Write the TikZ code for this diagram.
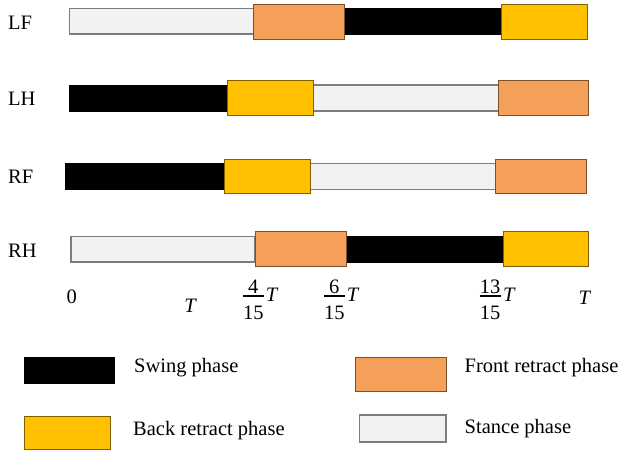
\documentclass[tikz,border=0pt]{standalone}
\usepackage{fontspec}
\setmainfont{Liberation Serif}
\definecolor{frontc}{RGB}{245,160,90}
\definecolor{backc}{RGB}{255,192,0}
\definecolor{stancec}{RGB}{242,242,242}
\definecolor{stanceedge}{RGB}{125,125,125}
\tikzset{
  swingbar/.style={fill=black, draw=black, line width=0.6pt},
  frontbox/.style={fill=frontc, draw=frontc!50!black, line width=1pt},
  backbox/.style={fill=backc, draw=backc!50!black, line width=1pt},
  stancebar/.style={fill=stancec, draw=stanceedge, line width=1.6pt},
  txt/.style={font=\fontsize{20.5}{24}\selectfont, inner sep=0pt},
  fracrule/.style={line width=1.4pt},
}
\begin{document}
\begin{tikzpicture}[x=1pt,y=-1pt]
\useasboundingbox (0,0) rectangle (622,450);

% ---- leg labels ----
\node[txt, anchor=west] (lf) at (8,23) {LF};
\node[txt, anchor=west] (lh) at (8,99) {LH};
\node[txt, anchor=west] (rf) at (8,177) {RF};
\node[txt, anchor=west] (rh) at (8,251) {RH};

% ---- LF ----
\draw[stancebar] (69.3,8.5) rectangle (254,34);
\draw[swingbar]  (344,8.5) rectangle (501,34);
\draw[frontbox]  (253.5,4) rectangle (344.5,39);
\draw[backbox]   (501,4) rectangle (587,39);

% ---- LH ----
\draw[swingbar]  (69.3,85) rectangle (227.5,111);
\draw[stancebar] (313.5,85) rectangle (498.5,111);
\draw[backbox]   (227,80.7) rectangle (313.5,115.7);
\draw[frontbox]  (498.5,80.7) rectangle (588.5,115.7);

% ---- RF ----
\draw[swingbar]  (65.5,163.3) rectangle (224.5,189.3);
\draw[stancebar] (310,163.3) rectangle (495.5,189.3);
\draw[backbox]   (224,159.3) rectangle (310,193.3);
\draw[frontbox]  (495.5,159.3) rectangle (586.5,193.3);

% ---- RH ----
\draw[stancebar] (71,236.5) rectangle (255,262);
\draw[swingbar]  (345.5,236.5) rectangle (503,262);
\draw[frontbox]  (255,231.7) rectangle (346,266.7);
\draw[backbox]   (503,231.7) rectangle (588,266.7);

% ---- time axis labels ----
\node[txt] (t0) at (71.7,297) {0};
\node[txt] (tmid) at (190.7,306) {\textit{T}};
\node[txt] (tend) at (585,298) {\textit{T}};

% 4/15 T
\node[txt] (n4) at (253.3,286.5) {4};
\draw[fracrule] (243,296) -- (264,296);
\node[txt] (d4) at (253.3,312.5) {15};
\node[txt] (t4) at (272.3,295) {\textit{T}};

% 6/15 T
\node[txt] (n6) at (334.3,286.5) {6};
\draw[fracrule] (324,296) -- (345,296);
\node[txt] (d6) at (334.3,312.5) {15};
\node[txt] (t6) at (353.3,295) {\textit{T}};

% 13/15 T
\node[txt] (n13) at (490,286.5) {13};
\draw[fracrule] (479.5,296) -- (500.5,296);
\node[txt] (d13) at (490,312.5) {15};
\node[txt] (t13) at (509.5,295) {\textit{T}};

% ---- legend ----
\draw[swingbar]  (24,357) rectangle (114,383);
\node[txt, anchor=west] (lswing) at (134,368) {Swing phase};
\draw[frontbox]  (355,357) rectangle (446,391);
\node[txt, anchor=west] (lfront) at (464.5,368) {Front retract phase};
\draw[backbox]   (24,416) rectangle (110,449);
\node[txt, anchor=west] (lback) at (133,431) {Back retract phase};
\draw[stancebar] (359.5,415) rectangle (446,442);
\node[txt, anchor=west] (lstance) at (464.5,429) {Stance phase};
\end{tikzpicture}
\end{document}
